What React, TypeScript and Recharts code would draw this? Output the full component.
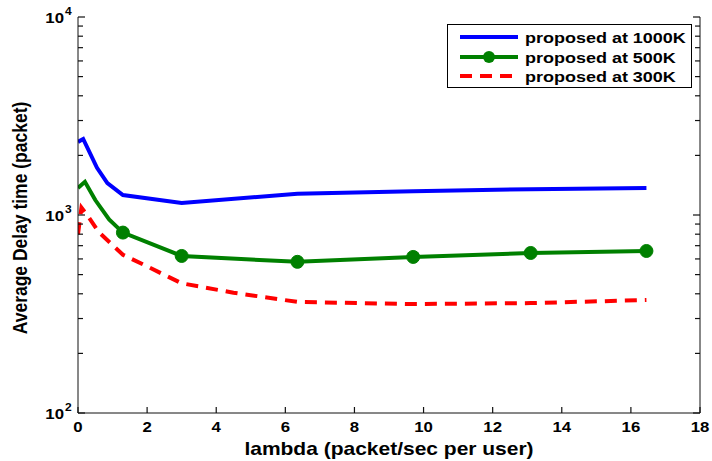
import React from 'react';
import { LineChart, Line, XAxis, YAxis, Legend } from 'recharts';

const xTicks = [0, 2, 4, 6, 8, 10, 12, 14, 16, 18];
const yTicks = [
  100, 200, 300, 400, 500, 600, 700, 800, 900,
  1000, 2000, 3000, 4000, 5000, 6000, 7000, 8000, 9000, 10000,
];

const names = ['proposed at 1000K', 'proposed at 500K', 'proposed at 300K'];

const blueX = [0, 0.15, 0.55, 0.85, 1.3, 3.0, 6.35, 9.7, 13.1, 16.45];
const blueY = [2340, 2420, 1730, 1450, 1262, 1150, 1280, 1320, 1350, 1370];

const greenX = [0, 0.2, 0.5, 0.9, 1.3, 3.0, 6.35, 9.7, 13.1, 16.45];
const greenY = [1370, 1470, 1190, 950, 815, 621, 580, 614, 643, 658];
// markers are only drawn from this index on
const greenMarkerFrom = 4;

const redX = [0, 0.1, 0.3, 0.6, 1.0, 1.3, 2.0, 3.0, 4.5, 6.35, 9.7, 13.1, 16.45];
const redY = [800, 1090, 980, 820, 705, 630, 550, 452, 405, 364, 355, 359, 372];

const toRows = (xs: number[], ys: number[]) => xs.map((x, i) => ({ x, y: ys[i] }));

const blueData = toRows(blueX, blueY);
const greenData = toRows(greenX, greenY);
const redData = toRows(redX, redY);

const FONT = '"Liberation Sans", Arial, Helvetica, sans-serif';
const AXIS = '#111';
const STRETCH = 1.2;

const isMajor = (v: number) => Math.abs(Math.log10(v) - Math.round(Math.log10(v))) < 1e-6;

const LeftTick = ({ x, y, payload }: any) => {
  const v = payload.value;
  const major = isMajor(v);
  return (
    <g>
      <line x1={x} y1={y} x2={x + (major ? 7 : 5)} y2={y} stroke={AXIS} strokeWidth={1.2} />
      {major && (
        <>
          <text
            transform={`translate(${x - 14},${y + 6}) scale(${STRETCH},1)`}
            textAnchor="end"
            fontSize={14}
            fontWeight="bold"
            fontFamily={FONT}
            fill="#000"
          >
            10
          </text>
          <text
            transform={`translate(${x - 13},${y - 2}) scale(${STRETCH},1)`}
            fontSize={10}
            fontWeight="bold"
            fontFamily={FONT}
            fill="#000"
          >
            {Math.round(Math.log10(v))}
          </text>
        </>
      )}
    </g>
  );
};

const RightTick = ({ x, y, payload }: any) => (
  <line x1={x} y1={y} x2={x - (isMajor(payload.value) ? 7 : 5)} y2={y} stroke={AXIS} strokeWidth={1.2} />
);

const BottomTick = ({ x, y, payload }: any) => (
  <g>
    <line x1={x} y1={y} x2={x} y2={y - 6} stroke={AXIS} strokeWidth={1.2} />
    <text
      transform={`translate(${x},${y + 19}) scale(${STRETCH},1)`}
      textAnchor="middle"
      fontSize={14}
      fontWeight="bold"
      fontFamily={FONT}
      fill="#000"
    >
      {payload.value}
    </text>
  </g>
);

const TopTick = ({ x, y }: any) => (
  <line x1={x} y1={y} x2={x} y2={y + 6} stroke={AXIS} strokeWidth={1.2} />
);

const XTitle = ({ viewBox }: any) => {
  const cx = viewBox.x + viewBox.width / 2;
  return (
    <text
      transform={`translate(${cx},${viewBox.y + 42}) scale(${STRETCH},1)`}
      textAnchor="middle"
      fontSize={17.5}
      fontWeight="bold"
      fontFamily={FONT}
      fill="#000"
    >
      lambda (packet/sec per user)
    </text>
  );
};

const YTitle = ({ viewBox }: any) => {
  const cy = viewBox.y + viewBox.height / 2;
  return (
    <text
      transform={`translate(27,${cy + 3}) scale(${STRETCH},1) rotate(-90)`}
      textAnchor="middle"
      fontSize={17.5}
      fontWeight="bold"
      fontFamily={FONT}
      fill="#000"
    >
      Average Delay time (packet)
    </text>
  );
};

const GreenDot = (props: any) => {
  const { cx, cy, index } = props;
  if (index < greenMarkerFrom) return <g key={`gd-${index}`} />;
  return <circle key={`gd-${index}`} cx={cx} cy={cy} r={6.5} fill="#008000" stroke="#008000" />;
};

const LegendBox = () => {
  const rows = [13, 33, 52];
  return (
    <svg width={245} height={64}>
      <rect x={0.5} y={0.5} width={244} height={63} fill="#fff" stroke="#000" />
      <line x1={13} x2={71} y1={rows[0]} y2={rows[0]} stroke="#0000ff" strokeWidth={4} />
      <line x1={13} x2={71} y1={rows[1]} y2={rows[1]} stroke="#008000" strokeWidth={4} />
      <circle cx={42} cy={rows[1]} r={6} fill="#008000" />
      <line
        x1={13}
        x2={71}
        y1={rows[2]}
        y2={rows[2]}
        stroke="#ff0000"
        strokeWidth={4}
        strokeDasharray="12 8"
      />
      {names.map((n, i) => (
        <text
          key={n}
          transform={`translate(78,${rows[i] + 5.5}) scale(${STRETCH},1)`}
          fontSize={15}
          fontWeight="bold"
          fontFamily={FONT}
          fill="#000"
        >
          {n}
        </text>
      ))}
    </svg>
  );
};

export default function App() {
  return (
    <div style={{ position: 'absolute', left: 0, top: 0, width: 712, height: 461, background: '#fff' }}>
      <LineChart width={712} height={461} margin={{ top: 17, right: 0, bottom: 0, left: 0 }}>
        <XAxis
          dataKey="x"
          type="number"
          domain={[0, 18]}
          ticks={xTicks}
          interval={0}
          allowDataOverflow
          height={48}
          tickSize={0}
          tickMargin={0}
          tickLine={false}
          tick={<BottomTick />}
          axisLine={{ stroke: AXIS }}
          label={<XTitle />}
        />
        <XAxis
          xAxisId="top"
          orientation="top"
          dataKey="x"
          type="number"
          domain={[0, 18]}
          ticks={xTicks}
          interval={0}
          allowDataOverflow
          height={0}
          tickSize={0}
          tickMargin={0}
          tickLine={false}
          tick={<TopTick />}
          axisLine={{ stroke: AXIS }}
        />
        <YAxis
          type="number"
          scale="log"
          domain={[100, 10000]}
          ticks={yTicks}
          interval={0}
          allowDataOverflow
          width={78}
          tickSize={0}
          tickMargin={0}
          tickLine={false}
          tick={<LeftTick />}
          axisLine={{ stroke: AXIS }}
          label={<YTitle />}
        />
        <YAxis
          yAxisId="right"
          orientation="right"
          type="number"
          scale="log"
          domain={[100, 10000]}
          ticks={yTicks}
          interval={0}
          allowDataOverflow
          width={12}
          tickSize={0}
          tickMargin={0}
          tickLine={false}
          tick={<RightTick />}
          axisLine={{ stroke: AXIS }}
        />
        <Legend
          layout="vertical"
          align="center"
          verticalAlign="middle"
          wrapperStyle={{ left: 447, top: 24, width: 245, height: 64 }}
          content={() => <LegendBox />}
        />
        <Line
          name={names[0]}
          data={blueData}
          dataKey="y"
          type="linear"
          stroke="#0000ff"
          strokeWidth={4}
          dot={false}
          isAnimationActive={false}
        />
        <Line
          name={names[1]}
          data={greenData}
          dataKey="y"
          type="linear"
          stroke="#008000"
          strokeWidth={4}
          dot={GreenDot}
          isAnimationActive={false}
        />
        <Line
          name={names[2]}
          data={redData}
          dataKey="y"
          type="linear"
          stroke="#ff0000"
          strokeWidth={4}
          strokeDasharray="12 8"
          dot={false}
          isAnimationActive={false}
        />
      </LineChart>
    </div>
  );
}
